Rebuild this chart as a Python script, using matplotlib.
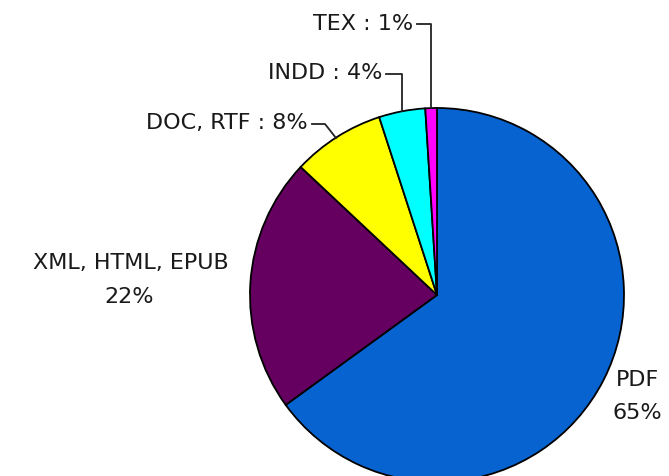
import matplotlib
matplotlib.use("Agg")
import matplotlib.pyplot as plt

categories = ["PDF", "XML, HTML, EPUB", "DOC, RTF", "INDD", "TEX"]
values = [65, 22, 8, 4, 1]
colors = ["#0763D0", "#650060", "#FFFF00", "#00FFFF", "#FF00FF"]

W, H = 669, 476
fig = plt.figure(figsize=(W / 100, H / 100), dpi=100)
ax = fig.add_axes([0, 0, 1, 1])

cx, cy, r = 437, H - 295, 187
ax.pie(values, colors=colors, startangle=90, counterclock=False,
       center=(cx, cy), radius=r,
       wedgeprops=dict(edgecolor="black", linewidth=1.3))
ax.set_xlim(0, W)
ax.set_ylim(0, H)
ax.set_aspect("equal")
ax.axis("off")

def Y(y):
    return H - y

font = dict(family=["DejaVu Sans"], fontsize=16, color="#1a1a1a")

# outer labels with leader lines (TEX, INDD, DOC)
ax.text(413, Y(24), f"{categories[4]} : {values[4]}%", ha="right", va="center", **font)
ax.plot([417, 431, 431], [Y(24), Y(24), Y(108)], color="#222222", lw=1.3)

ax.text(382, Y(73), f"{categories[3]} : {values[3]}%", ha="right", va="center", **font)
ax.plot([386, 402, 402], [Y(74), Y(74), Y(111)], color="#222222", lw=1.3)

ax.text(308, Y(123), f"{categories[2]} : {values[2]}%", ha="right", va="center", **font)
ax.plot([312, 325, 336], [Y(124), Y(124), Y(138)], color="#222222", lw=1.3)

# side labels
ax.text(131, Y(263), categories[1], ha="center", va="center", **font)
ax.text(129, Y(297), f"{values[1]}%", ha="center", va="center", **font)

ax.text(637, Y(380), categories[0], ha="center", va="center", **font)
ax.text(637, Y(413), f"{values[0]}%", ha="center", va="center", **font)

fig.savefig("out.png", dpi=100, facecolor="white")
